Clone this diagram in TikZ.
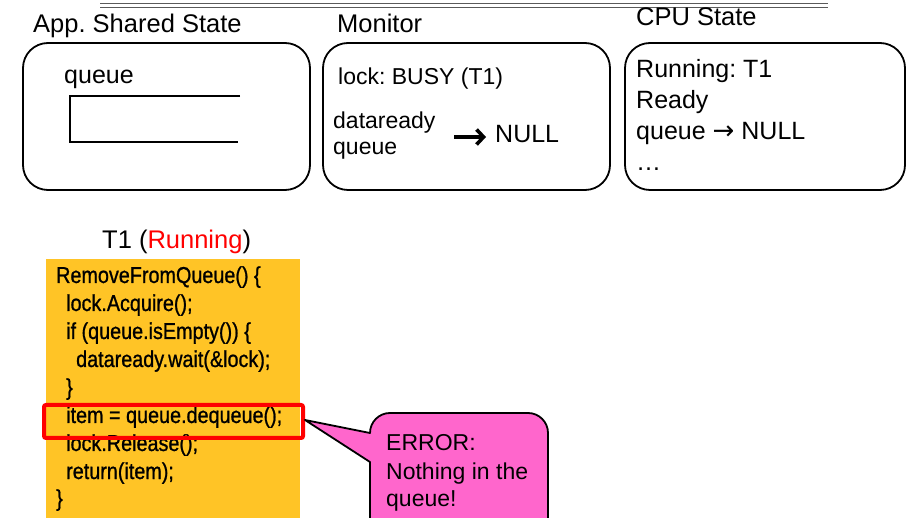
\documentclass[tikz,border=0pt]{standalone}
\usepackage{fontspec}
\setmainfont{Liberation Sans}
\newfontfamily\codefont{Liberation Sans}[FakeStretch=0.86,FakeBold=0.9]
\newfontfamily\arrowfont{DejaVu Sans}
\frenchspacing
\usetikzlibrary{arrows.meta}
\definecolor{codeyellow}{RGB}{255,196,38}
\definecolor{calloutpink}{RGB}{255,102,204}
\definecolor{rulegray}{RGB}{90,90,90}
\begin{document}
\begin{tikzpicture}[x=1pt,y=1pt,
  ttl/.style={font=\fontsize{25.5}{30}\selectfont, anchor=base west, inner sep=0},
  txt/.style={font=\fontsize{23}{28}\selectfont, anchor=base west, inner sep=0},
  big/.style={font=\fontsize{25}{30}\selectfont, anchor=base west, inner sep=0},
  code/.style={font=\codefont\fontsize{23}{28}\selectfont, anchor=base west, inner sep=0},
  panel/.style={draw, line width=1.8, rounded corners=25, minimum height=147, inner sep=0}]
\useasboundingbox (0,0) rectangle (916,-518);
\clip (0,0) rectangle (916,-518);
% top rule
\coordinate (ruleA) at (100,-3.5);
\coordinate (ruleB) at (828,-3.5);
\coordinate (ruleC) at (100,-7);
\coordinate (ruleD) at (828,-7);
\draw[rulegray, line width=1.8] (ruleA) -- (ruleB);
\draw[rulegray, line width=0.9] (ruleC) -- (ruleD);
% titles
\node[ttl] (tapp) at (33,-33) {App. Shared State};
\node[ttl] (tmon) at (337,-33) {Monitor};
\node[ttl] (tcpu) at (636,-26) {CPU State};
% panels
\node[panel, minimum width=287] (app) at (166.5,-116.5) {};
\node[panel, minimum width=287] (mon) at (466.5,-116.5) {};
\node[panel, minimum width=280] (cpu) at (765,-116.5) {};
% app shared state
\node[big] (qlbl) at (64,-84) {queue};
\draw[line width=2.4] (240,-96) -| (70,-142) -- (238,-142);
% monitor
\node[txt] (lock) at (338,-85) {lock: BUSY (T1)};
\node[txt] (dr) at (333,-129) {dataready};
\node[txt] (drq) at (333,-155) {queue};
\node[big] (null1) at (495,-143) {NULL};
\coordinate (arS) at (454,-137);
\coordinate (arE) at (486,-137);
\draw[line width=3.6, -{Straight Barb[length=7,width=15,line width=3.6]}] (arS) -- (arE);
% cpu
\node[big] (run) at (636,-78) {Running: T1};
\node[big] (rdy) at (636,-109) {Ready};
\node[big] (rq) at (636,-140) {queue {\arrowfont\fontsize{26}{30}\selectfont →} NULL};
\node[big] (dots) at (636,-171) {…};
% thread
\node[ttl] (t1) at (102,-249) {T1 (\textcolor{red}{Running})};
\fill[codeyellow] (46,-259) rectangle (300,-530);
\node[code] (c1) at (56,-283) {RemoveFromQueue() \{};
\node[code] (c2) at (66,-311) {lock.Acquire();};
\node[code] (c3) at (66,-339) {if (queue.isEmpty()) \{};
\node[code] (c4) at (76,-367) {dataready.wait(\&lock);};
\node[code] (c5) at (66,-395) {\}};
\node[code] (c6) at (66,-423) {item = queue.dequeue();};
\node[code] (c7) at (66,-451) {lock.Release();};
\node[code] (c8) at (66,-479) {return(item);};
\node[code] (c9) at (56,-506) {\}};
\draw[red, line width=4, rounded corners=2] (44,-405) rectangle (303,-438);
% callout
\coordinate (tip) at (305,-420);
\draw[fill=calloutpink, line width=1.8, line join=round]
  (tip) -- (370,-433) arc (180:90:20) -- (528,-413) arc (90:0:20) -- (548,-540) -- (370,-540) -- (370,-462) -- cycle;
\node[txt] (e1) at (386,-451) {ERROR:};
\node[txt] (e2) at (386,-479) {Nothing in the};
\node[txt] (e3) at (386,-507) {queue!};
\end{tikzpicture}
\end{document}
